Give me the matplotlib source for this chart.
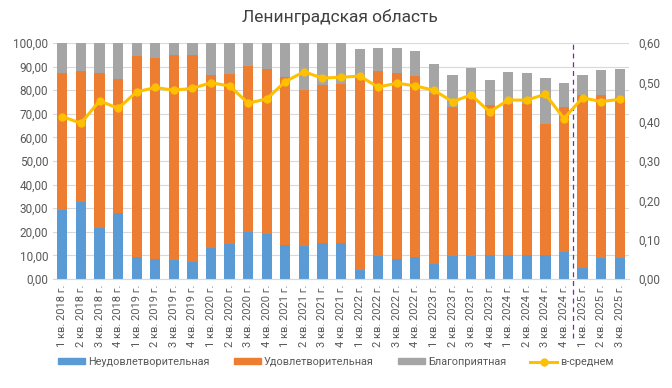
import numpy as np
import matplotlib
matplotlib.use('Agg')
import matplotlib.pyplot as plt
from matplotlib.patches import Patch
from matplotlib.lines import Line2D
from matplotlib.ticker import FuncFormatter, MultipleLocator

plt.rcParams['font.family'] = ['Roboto', 'DejaVu Sans']

quarters = ['1 кв. 2018 г.', '2 кв. 2018 г.', '3 кв. 2018 г.', '4 кв. 2018 г.',
            '1 кв. 2019 г.', '2 кв. 2019 г.', '3 кв. 2019 г.', '4 кв. 2019 г.',
            '1 кв. 2020 г.', '2 кв. 2020 г.', '3 кв. 2020 г.', '4 кв. 2020 г.',
            '1 кв. 2021 г.', '2 кв. 2021 г.', '3 кв. 2021 г.', '4 кв. 2021 г.',
            '1 кв. 2022 г.', '2 кв. 2022 г.', '3 кв. 2022 г.', '4 кв. 2022 г.',
            '1 кв. 2023 г.', '2 кв. 2023 г.', '3 кв. 2023 г.', '4 кв. 2023 г.',
            '1 кв. 2024 г.', '2 кв. 2024 г.', '3 кв. 2024 г.', '4 кв. 2024 г.',
            '1 кв. 2025 г.', '2 кв. 2025 г.', '3 кв. 2025 г.']

# shares, %
neud = [29.1, 32.6, 21.5, 27.9, 9.5, 8.6, 8.1, 7.2, 13.2, 14.8, 19.8, 19.1,
        14.2, 13.9, 15.2, 15.2, 3.8, 9.6, 8.5, 9.5, 6.4, 9.6, 9.6, 10.3,
        10.3, 10.3, 10.3, 11.3, 4.7, 8.9, 8.9]
udovl = [58.4, 55.7, 66.0, 56.8, 85.1, 84.9, 86.9, 87.8, 73.3, 72.2, 70.5, 69.8,
         71.6, 66.2, 67.1, 67.5, 82.0, 78.7, 78.7, 76.6, 72.6, 63.4, 67.7, 63.4,
         63.9, 63.7, 55.2, 61.5, 73.3, 69.1, 67.7]
blag = [12.5, 11.7, 12.5, 15.3, 5.4, 6.5, 5.0, 5.0, 13.5, 13.0, 9.7, 11.1,
        14.2, 19.9, 17.7, 17.3, 11.8, 9.6, 10.7, 10.6, 12.2, 13.5, 12.2, 10.7,
        13.6, 13.5, 19.6, 10.4, 8.5, 10.6, 12.5]
# mean index, right axis
sredn = [0.413, 0.396, 0.453, 0.434, 0.476, 0.487, 0.480, 0.485, 0.499, 0.491, 0.447, 0.458,
         0.502, 0.527, 0.511, 0.513, 0.516, 0.488, 0.498, 0.491, 0.480, 0.451, 0.468, 0.425,
         0.455, 0.455, 0.470, 0.408, 0.461, 0.451, 0.457]

c_blue, c_orange, c_grey, c_gold = '#5B9BD5', '#ED7D31', '#A5A5A5', '#FFC000'
txt = '#595959'

x = np.arange(len(quarters))
neud = np.array(neud); udovl = np.array(udovl); blag = np.array(blag)

fig, ax = plt.subplots(figsize=(6.72, 3.88), dpi=100)
fig.subplots_adjust(left=0.079, right=0.936, top=0.889, bottom=0.281)

w = 0.55
ax.bar(x, neud, w, color=c_blue, zorder=2)
ax.bar(x, udovl, w, bottom=neud, color=c_orange, zorder=2)
ax.bar(x, blag, w, bottom=neud + udovl, color=c_grey, zorder=2)

ax.set_xlim(-0.5, len(x) - 0.5)
ax.set_ylim(0, 100)
ax.yaxis.set_major_locator(MultipleLocator(10))
ax.yaxis.set_major_formatter(FuncFormatter(lambda v, p: f'{v:.2f}'.replace('.', ',')))
ax.grid(axis='y', color='#D9D9D9', linewidth=0.8, zorder=0)
ax.set_xticks(x)
ax.set_xticklabels(quarters, rotation=90, fontsize=8, color=txt)
ax.tick_params(axis='y', length=0, labelsize=8.5, labelcolor=txt)
ax.tick_params(axis='x', length=0, pad=4)
for s in ['top', 'right', 'left']:
    ax.spines[s].set_visible(False)
ax.spines['bottom'].set_color('#D9D9D9')

ax2 = ax.twinx()
ax2.plot(x, sredn, color=c_gold, linewidth=2.2, marker='o', markersize=5, zorder=3)
ax2.set_ylim(0, 0.6)
ax2.yaxis.set_major_locator(MultipleLocator(0.1))
ax2.yaxis.set_major_formatter(FuncFormatter(lambda v, p: f'{v:.2f}'.replace('.', ',')))
ax2.tick_params(axis='y', length=0, labelsize=8.5, labelcolor=txt, pad=7)
for s in ax2.spines.values():
    s.set_visible(False)

# separator between 2024 and 2025
ax.plot([27.5, 27.5], [-0.25, 1.0], transform=ax.get_xaxis_transform(), clip_on=False,
        color='#7030A0', linestyle=(0, (4, 3)), linewidth=0.9, zorder=4)

fig.text(0.506, 1 - 17 / 388, 'Ленинградская область', ha='center', va='center',
         fontsize=12.5, color='#404040')

handles = [Patch(color=c_blue), Patch(color=c_orange), Patch(color=c_grey),
           Line2D([0], [0], color=c_gold, linewidth=2.2, marker='o', markersize=5)]
labels = ['Неудовлетворительная', 'Удовлетворительная', 'Благоприятная', 'в-среднем']
fig.legend(handles, labels, loc='center', bbox_to_anchor=(0.5, 1 - 362 / 388), ncol=4,
           frameon=False, fontsize=7.8, labelcolor=txt, handlelength=2.5, handleheight=0.5,
           columnspacing=2.2, handletextpad=0.3)

plt.savefig('out.png', dpi=100)
